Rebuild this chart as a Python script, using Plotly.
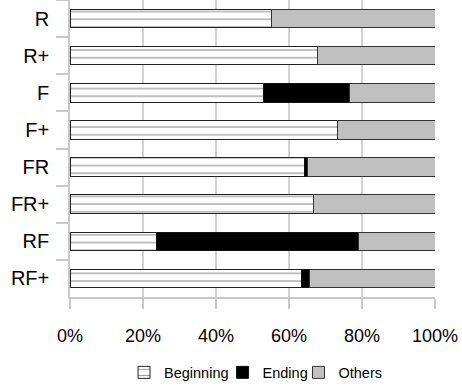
import plotly.graph_objects as go

categories = ["R", "R+", "F", "F+", "FR", "FR+", "RF", "RF+"]
beginning = [55.3, 67.7, 53.0, 73.3, 64.2, 66.8, 23.7, 63.3]
ending = [0.0, 0.0, 23.5, 0.0, 0.8, 0.0, 55.3, 2.3]
others = [44.7, 32.3, 23.5, 26.7, 35.0, 33.2, 21.0, 34.4]
x_ticks = [0, 20, 40, 60, 80, 100]
x_tick_labels = ["0%", "20%", "40%", "60%", "80%", "100%"]

fig = go.Figure()
fig.add_trace(go.Bar(
    y=categories, x=beginning, name="Beginning", orientation="h", width=0.5, legend="legend",
    marker=dict(color="white", line=dict(color="#222", width=1),
                pattern=dict(shape="-", size=7.7, solidity=0.16, fgcolor="#333", bgcolor="white")),
))
fig.add_trace(go.Bar(
    y=categories, x=ending, name="Ending", orientation="h", width=0.5, legend="legend2",
    marker=dict(color="black", line=dict(color="#111", width=1)),
))
fig.add_trace(go.Bar(
    y=categories, x=others, name="Others", orientation="h", width=0.5, legend="legend3",
    marker=dict(color="#c0c0c0", line=dict(color="#333", width=1)),
))

leg_common = dict(orientation="h", yanchor="middle", y=-0.254, xanchor="left",
                  font=dict(family="Liberation Sans, Arial, sans-serif", size=14.5),
                  itemwidth=30, bgcolor="rgba(0,0,0,0)")

fig.update_layout(
    width=462, height=389,
    barmode="stack",
    paper_bgcolor="white", plot_bgcolor="white",
    margin=dict(l=70, r=27, t=0, b=86),
    font=dict(family="Liberation Sans, Arial, sans-serif", color="black"),
    showlegend=True,
    legend=dict(x=0.148, **leg_common),
    legend2=dict(x=0.418, **leg_common),
    legend3=dict(x=0.626, **leg_common),
    xaxis=dict(range=[0, 100], tickmode="array", tickvals=x_ticks, ticktext=x_tick_labels,
               showgrid=True, gridcolor="#d2d2d2", gridwidth=1.5,
               showline=True, linecolor="#c8c8c8", linewidth=1.5,
               ticks="outside", ticklen=10, tickcolor="#c8c8c8", tickwidth=1.5,
               tickfont=dict(size=18), ticklabelstandoff=12, zeroline=False,
               fixedrange=True, automargin=False),
    yaxis=dict(autorange="reversed", type="category", tickson="boundaries",
               showgrid=False, showline=True, linecolor="#c8c8c8", linewidth=1.5,
               ticks="outside", ticklen=12, tickcolor="#c8c8c8", tickwidth=1.5,
               tickfont=dict(size=20), ticklabelstandoff=15, fixedrange=True,
               automargin=False),
)

fig.write_html("out.html", config={"displayModeBar": False},
               post_script="document.body.style.margin='0';document.body.style.padding='0';")
